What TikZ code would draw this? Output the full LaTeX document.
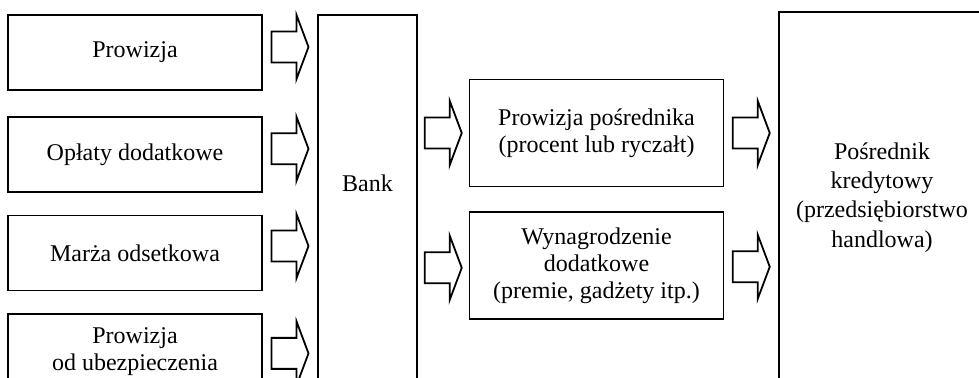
\documentclass[tikz,border=0pt]{standalone}
\usepackage{fontspec}
\setmainfont{Liberation Serif}
\usetikzlibrary{positioning, calc}
\tikzset{
    box/.style={rectangle, draw=black, line width=0.9pt, inner sep=0pt, align=center, font=\fontsize{12}{13.5}\selectfont},
    leftbox/.style={box, minimum width=127pt, minimum height=37.5pt},
    midbox/.style={box, minimum width=127pt, minimum height=53.5pt},
    blockarrow/.pic={
        \draw[line width=0.9pt, miter limit=20] (-18.5,-15.5) -- (6.5,-15.5) -- (6.5,-32) -- (18.5,0) -- (6.5,32) -- (6.5,15.5) -- (-18.5,15.5) -- cycle;
    },
}
\begin{document}
\begin{tikzpicture}[x=0.5pt, y=-0.5pt]
    \clip (0,0) rectangle (979,378);

    % zrodla dochodu banku
    \node[leftbox] (prow) at (135,52.5) {Prowizja};
    \node[leftbox, below=12.5pt of prow] (oplaty) {Opłaty dodatkowe};
    \node[leftbox, below=11pt of oplaty] (marza) {Marża odsetkowa};
    \node[leftbox, below=11pt of marza] (ubezp) {Prowizja\\od ubezpieczenia};

    % bank
    \node[box, minimum width=49.5pt, minimum height=184pt, label={[font=\fontsize{12}{13.5}\selectfont, yshift=8pt]center:Bank}] (bank) at (367.5,199) {};

    % wynagrodzenie posrednika
    \node[midbox] (posr) at (596.5,133) {Prowizja pośrednika\\(procent lub ryczałt)};
    \node[midbox, below=12pt of posr] (wyn) {Wynagrodzenie\\dodatkowe\\(premie, gadżety itp.)};

    % posrednik kredytowy
    \node[box, minimum width=103pt, minimum height=185.5pt, font=\fontsize{12}{14.7}\selectfont] (kred) at (882,197.5) {Pośrednik\\kredytowy\\(przedsiębiorstwo\\handlowa)};

    % strzalki do banku
    \pic at ($(prow.east)!.5!(prow.east -| bank.west) + (0,-5.5)$) {blockarrow};
    \pic at ($(oplaty.east)!.5!(oplaty.east -| bank.west) + (0,-5.5)$) {blockarrow};
    \pic at ($(marza.east)!.5!(marza.east -| bank.west) + (0,-7)$) {blockarrow};
    \pic at ($(ubezp.east)!.5!(ubezp.east -| bank.west) + (0,1.5)$) {blockarrow};

    % strzalki bank -> posrednik
    \pic at ($(posr.west -| bank.east)!.5!(posr.west)$) {blockarrow};
    \pic at ($(wyn.west -| bank.east)!.5!(wyn.west) + (0,2)$) {blockarrow};
    \pic at ($(posr.east)!.5!(posr.east -| kred.west)$) {blockarrow};
    \pic at ($(wyn.east)!.5!(wyn.east -| kred.west) + (0,1)$) {blockarrow};
\end{tikzpicture}
\end{document}
